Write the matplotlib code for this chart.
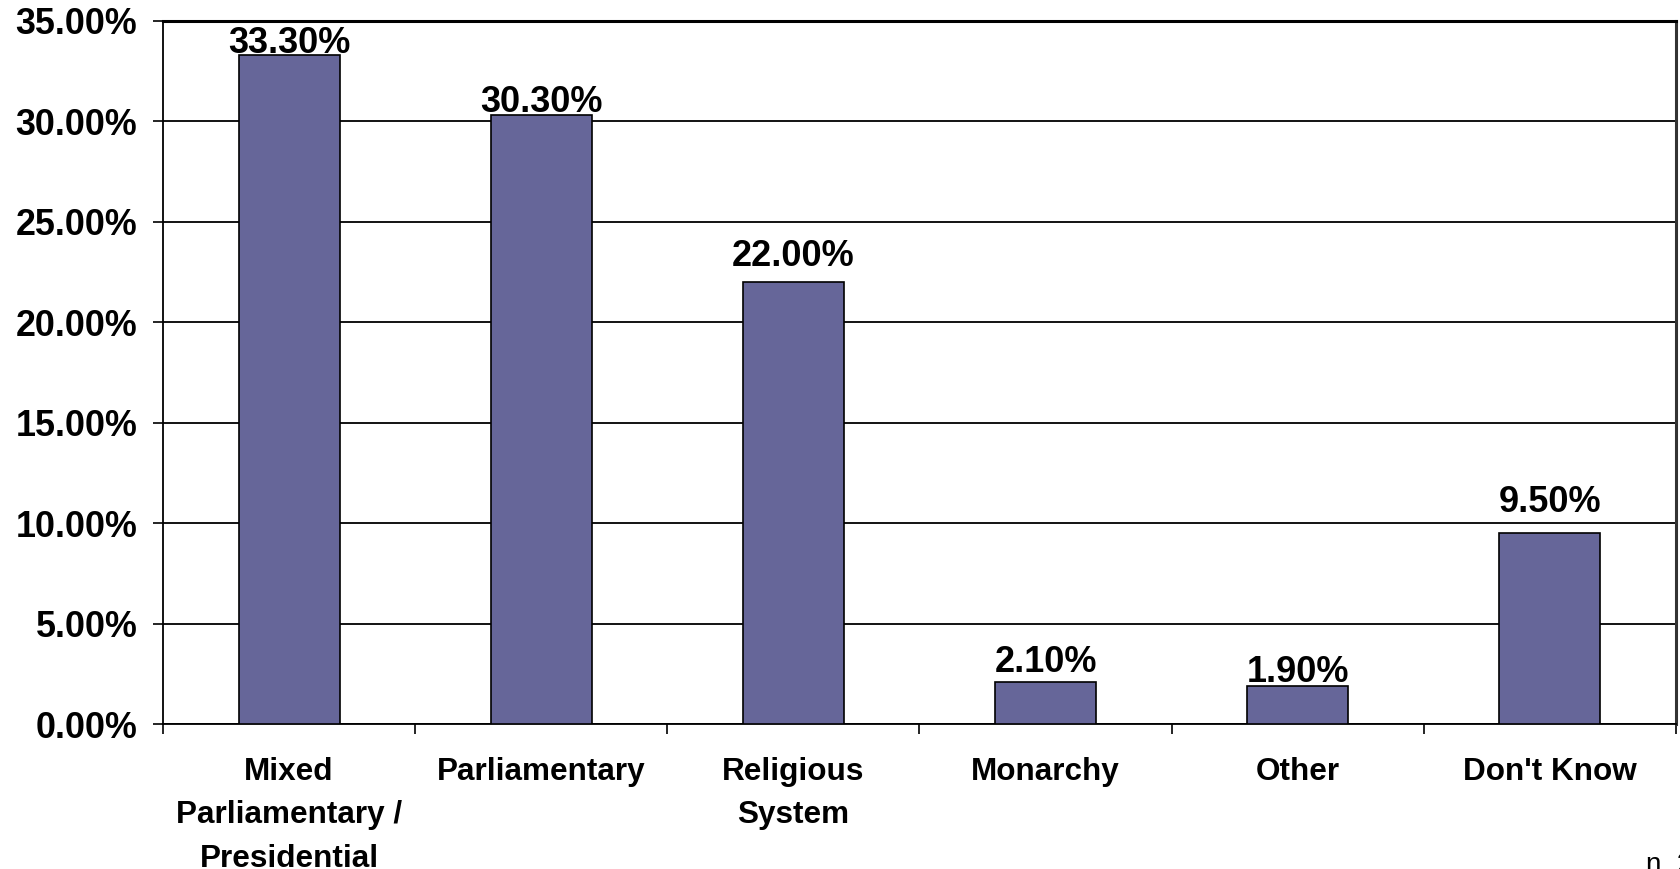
import matplotlib
matplotlib.use("Agg")
import matplotlib.pyplot as plt
from matplotlib.ticker import FuncFormatter, MultipleLocator

categories = ["Mixed\nParliamentary /\nPresidential", "Parliamentary", "Religious\nSystem",
              "Monarchy", "Other", "Don't Know"]
values = [0.333, 0.303, 0.220, 0.021, 0.019, 0.095]
value_labels = ["33.30%", "30.30%", "22.00%", "2.10%", "1.90%", "9.50%"]
label_offsets_px = [2, 3, 16, 10, 4, 21]

plt.rcParams['font.family'] = ['Liberation Sans', 'DejaVu Sans']
plt.rcParams['font.weight'] = 'bold'

DPI = 100
fig = plt.figure(figsize=(16.81, 8.69), dpi=DPI)
ax = fig.add_axes([163/1681, 1 - 724/869, (1676-163)/1681, (724-21)/869])

x = list(range(len(categories)))
bars = ax.bar(x, values, width=0.4, color="#666699", edgecolor="black", linewidth=1.2, zorder=3)

ax.set_xlim(-0.5, len(categories) - 0.5)
ax.set_ylim(0, 0.35)
ax.yaxis.set_major_locator(MultipleLocator(0.05))
ax.yaxis.set_major_formatter(FuncFormatter(lambda v, p: f"{v*100:.2f}%"))
ax.grid(axis='y', color='black', linewidth=1.3, zorder=1)
ax.set_axisbelow(True)

ax.set_xticks(x)
ax.set_xticklabels(categories, fontsize=22.7, fontweight='bold', linespacing=1.57, va='top')
ax.set_xticks([i - 0.5 for i in range(len(categories) + 1)], minor=True)
ax.tick_params(axis='x', which='major', length=0, pad=24)
ax.tick_params(axis='x', which='minor', length=7.5, width=1.2, direction='out')
ax.tick_params(axis='y', length=7.5, width=1.2, direction='out', labelsize=25.8, pad=11)
for lab in ax.get_yticklabels():
    lab.set_fontweight('bold')

for sp in ['left', 'bottom']:
    ax.spines[sp].set_linewidth(1.3)
ax.spines['top'].set_linewidth(2.2)
ax.spines['right'].set_linewidth(2.2)
ax.spines['right'].set_color('#333333')

for xi, v, lab, off in zip(x, values, value_labels, label_offsets_px):
    ax.annotate(lab, (xi, v), xytext=(0, off * 72 / DPI), textcoords='offset points',
                ha='center', va='baseline', fontsize=26, fontweight='bold', zorder=4)

fig.text(1646, -3, "n. 2", transform=None, fontsize=20, fontweight='normal',
         ha='left', va='baseline')

fig.savefig("out.png", dpi=DPI, facecolor='white')
